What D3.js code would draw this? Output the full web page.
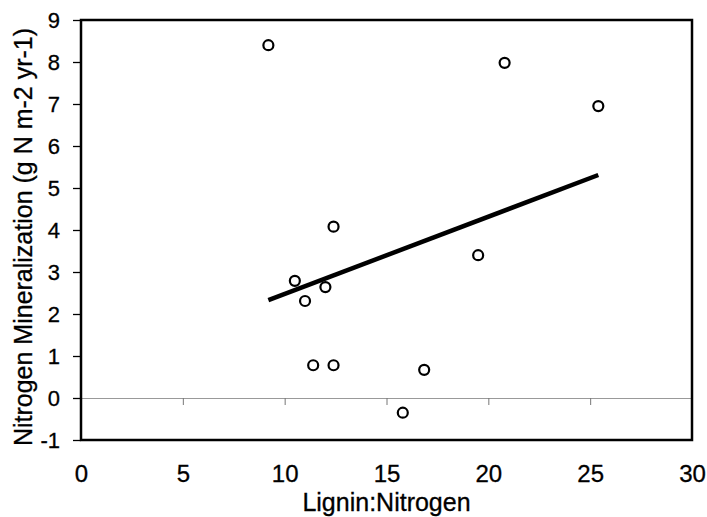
<!DOCTYPE html>
<html>
<head>
<meta charset="utf-8">
<script src="https://cdn.jsdelivr.net/npm/d3@7"></script>
<style>
  body { margin: 0; background: #fff; }
  svg { display: block; font-family: "Liberation Sans", Arial, sans-serif; }
</style>
</head>
<body>
<svg width="707" height="517"></svg>
<script>
// values
var ligninN  = [9.2, 20.8, 25.4, 12.4, 10.5, 12.0, 11.0, 11.4, 12.4, 16.85, 15.8, 19.5];
var nMineral = [8.4, 7.98, 6.95, 4.08, 2.79, 2.64, 2.31, 0.78, 0.78, 0.67, -0.35, 3.4];
var trendX = [9.2, 25.4];
var trendY = [2.33, 5.31];
var xTicks = [0, 5, 10, 15, 20, 25, 30];
var yTicks = [-1, 0, 1, 2, 3, 4, 5, 6, 7, 8, 9];

var svg = d3.select("svg");
var plotL = 81, plotR = 692, plotT = 20, plotB = 440;
var fnt = "'Liberation Sans', Arial, sans-serif";

var x = d3.scaleLinear().domain([0, 30]).range([plotL, plotR]);
var y = d3.scaleLinear().domain([-1, 9]).range([plotB, plotT]);

// zero line with little gray ticks
var zero = svg.append("g").attr("transform", "translate(0," + y(0) + ")")
  .call(d3.axisBottom(x).tickValues(xTicks.slice(1, -1)).tickSize(7).tickFormat("").tickSizeOuter(0));
zero.select(".domain").attr("stroke", "#999").attr("stroke-width", 1.2);
zero.selectAll(".tick line").attr("stroke", "#777");

// y axis
var ya = svg.append("g").attr("transform", "translate(" + plotL + ",0)")
  .call(d3.axisLeft(y).tickValues(yTicks).tickSize(8).tickPadding(13).tickSizeOuter(0)
    .tickFormat(function(d) { return String(d); }));
ya.select(".domain").remove();
ya.selectAll(".tick line").attr("stroke", "#000").attr("stroke-width", 1.3);
ya.selectAll("text").attr("font-size", 22).attr("fill", "#000")
  .attr("stroke", "#000").attr("stroke-width", 0.3).attr("font-family", fnt);

// x axis labels
var xa = svg.append("g").attr("transform", "translate(0," + plotB + ")")
  .call(d3.axisBottom(x).tickValues(xTicks).tickSize(0).tickPadding(25));
xa.select(".domain").remove();
xa.selectAll("text").attr("font-size", 24).attr("fill", "#000")
  .attr("stroke", "#000").attr("stroke-width", 0.3).attr("font-family", fnt);

// frame
svg.append("rect")
  .attr("x", plotL).attr("y", plotT)
  .attr("width", plotR - plotL).attr("height", plotB - plotT)
  .attr("fill", "none").attr("stroke", "#000").attr("stroke-width", 2.5);

// trend line
svg.append("line")
  .attr("x1", x(trendX[0])).attr("y1", y(trendY[0]))
  .attr("x2", x(trendX[1])).attr("y2", y(trendY[1]))
  .attr("stroke", "#000").attr("stroke-width", 4.5);

// points
svg.selectAll("circle.pt").data(ligninN).enter().append("circle")
  .attr("class", "pt")
  .attr("cx", function(d) { return x(d); })
  .attr("cy", function(d, i) { return y(nMineral[i]); })
  .attr("r", 5)
  .attr("fill", "none").attr("stroke", "#000").attr("stroke-width", 2.2);

// titles
svg.append("text")
  .attr("x", (plotL + plotR) / 2).attr("y", 511)
  .attr("text-anchor", "middle").attr("font-size", 25)
  .attr("stroke", "#000").attr("stroke-width", 0.3)
  .text("Lignin:Nitrogen");

svg.append("text")
  .attr("transform", "translate(32,237) rotate(-90)")
  .attr("text-anchor", "middle").attr("font-size", 25)
  .attr("stroke", "#000").attr("stroke-width", 0.3)
  .text("Nitrogen Mineralization (g N m-2 yr-1)");
</script>
</body>
</html>
